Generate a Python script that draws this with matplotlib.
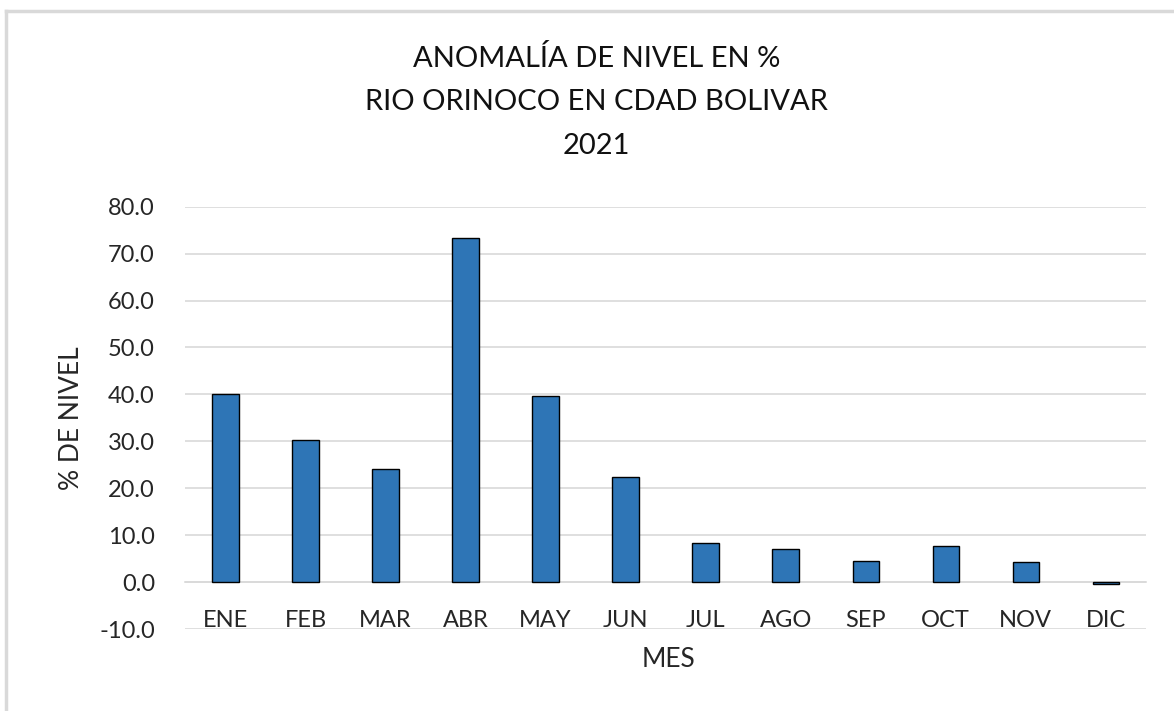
import matplotlib.pyplot as plt
from matplotlib.lines import Line2D

# Data
meses = ['ENE', 'FEB', 'MAR', 'ABR', 'MAY', 'JUN', 'JUL', 'AGO', 'SEP', 'OCT', 'NOV', 'DIC']
anomalia = [40.0, 30.2, 24.1, 73.4, 39.6, 22.4, 8.3, 7.0, 4.6, 7.7, 4.3, -0.4]
y_ticks = [-10, 0, 10, 20, 30, 40, 50, 60, 70, 80]

plt.rcParams['font.family'] = ['Lato', 'DejaVu Sans']

fig = plt.figure(figsize=(11.74, 7.11), dpi=100)
ax = fig.add_axes([0.158, 0.1153, 0.818, 0.594])

x = range(len(meses))
ax.bar(x, anomalia, width=0.33, color='#2E75B6', edgecolor='black', linewidth=1.0, zorder=3)

ax.set_ylim(-10, 80)
ax.set_xlim(-0.5, len(meses) - 0.5)
ax.set_yticks(y_ticks)
ax.set_yticklabels([f'{v:.1f}' for v in y_ticks], fontsize=17, color='#262626')
ax.tick_params(axis='y', length=0, pad=22)
ax.grid(axis='y', color='#d9d9d9', linewidth=1.2, zorder=0)

# category axis crosses at zero
ax.spines['bottom'].set_position(('data', 0))
ax.spines['bottom'].set_color('#d9d9d9')
ax.spines['bottom'].set_linewidth(1.2)
for s in ['top', 'right', 'left']:
    ax.spines[s].set_visible(False)
ax.set_xticks(list(x))
ax.set_xticklabels(meses, fontsize=17, color='#262626')
ax.tick_params(axis='x', length=0, pad=20)

ax.set_ylabel('% DE NIVEL', fontsize=19, color='#262626', labelpad=11)
fig.text(0.569, 0.073, 'MES', ha='center', va='center', fontsize=19, color='#262626')

fig.text(0.508, 0.918, 'ANOMALÍA DE NIVEL EN %', ha='center', va='center', fontsize=21, color='#111111')
fig.text(0.508, 0.856, 'RIO ORINOCO EN CDAD BOLIVAR', ha='center', va='center', fontsize=21, color='#111111')
fig.text(0.508, 0.794, '2021', ha='center', va='center', fontsize=21, color='#111111')

# chart frame (left and top edges visible)
fig.add_artist(Line2D([0.0055, 0.0055], [0, 0.985], transform=fig.transFigure, color='#d9d9d9', linewidth=2.5))
fig.add_artist(Line2D([0.0055, 1.0], [0.985, 0.985], transform=fig.transFigure, color='#d9d9d9', linewidth=2.5))

fig.savefig('out.png', dpi=100)
